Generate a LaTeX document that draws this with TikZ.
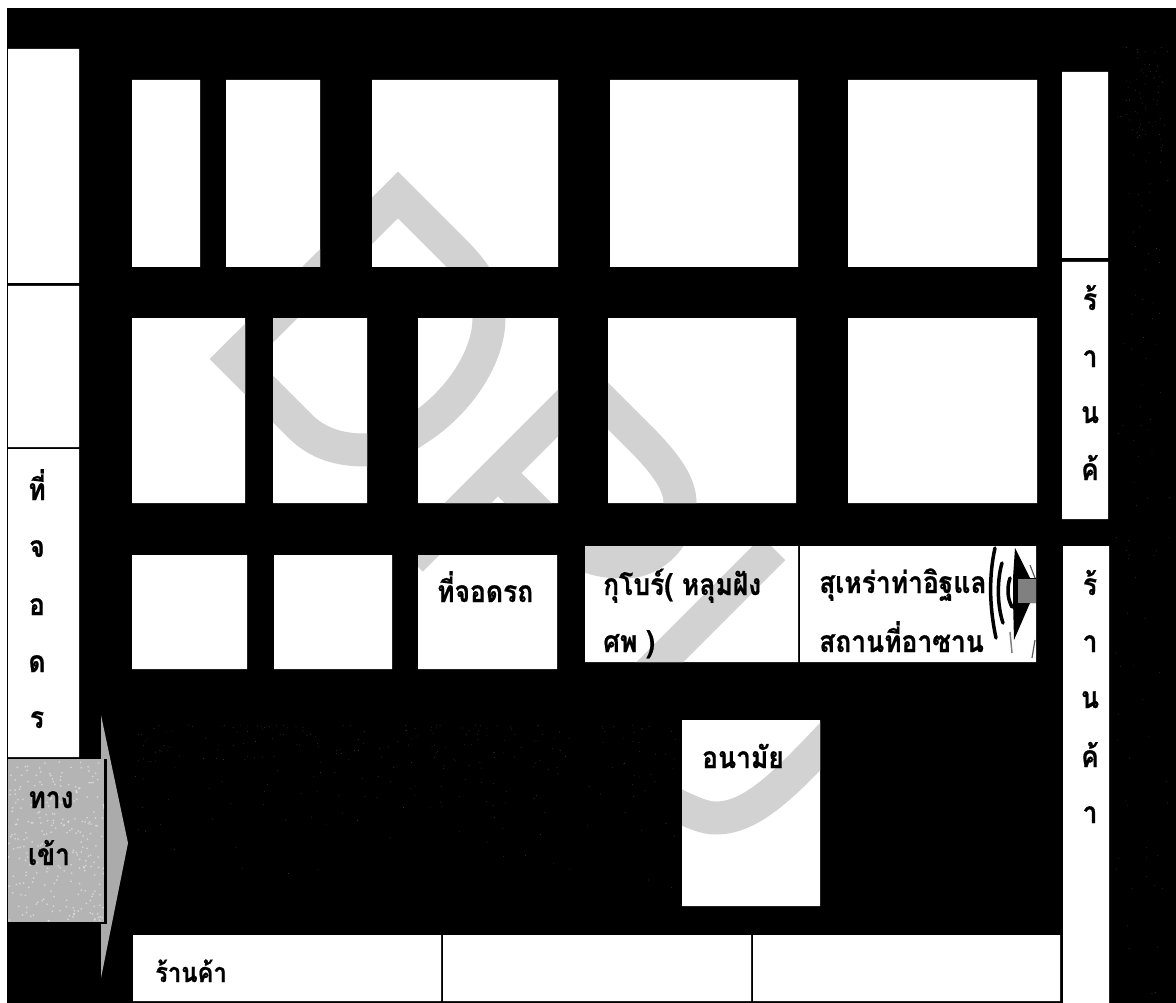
\documentclass[tikz,border=0pt]{standalone}
\usepackage{fontspec}
\newfontfamily\thaifont[Script=Thai,BoldFeatures={FakeStretch=0.88,FakeBold=0.6}]{Loma}
\newcommand{\boxrects}{
  (8,49) rectangle (79,283)
  (8,286) rectangle (79,447)
  (8,449) rectangle (79,757)
  (132,80) rectangle (200,267)
  (226,80) rectangle (320,267)
  (372,80) rectangle (558,267)
  (610,80) rectangle (798,267)
  (848,80) rectangle (1037,267)
  (132,318) rectangle (245,503)
  (273,318) rectangle (367,503)
  (418,318) rectangle (558,503)
  (608,318) rectangle (796,503)
  (848,318) rectangle (1037,503)
  (132,555) rectangle (247,669)
  (274,555) rectangle (392,669)
  (418,555) rectangle (557,669)
  (585,546) rectangle (798,662)
  (800,546) rectangle (1036,662)
  (682,720) rectangle (820,906)
  (133,935) rectangle (441,1001)
  (443,935) rectangle (751,1001)
  (753,935) rectangle (1060,1001)
  (1062,72) rectangle (1108,258)
  (1062,262) rectangle (1108,519)
  (1063,546) rectangle (1109,1003)
}
\tikzset{
  lbl/.style={anchor=base west,inner sep=0pt,font=\thaifont\bfseries\fontsize{30}{30}\selectfont,text=black},
  slbl/.style={anchor=base west,inner sep=0pt,font=\thaifont\bfseries\fontsize{27}{27}\selectfont,text=black},
  vlbl/.style={anchor=base,inner sep=0pt,font=\thaifont\bfseries\fontsize{30}{30}\selectfont,text=black},
  band/.style={draw=wmgray,line width=33pt,miter limit=10},
  speck/.style={fill=noisegray},
  horn/.style={draw=black,line width=3.5pt,line cap=round}
}
\definecolor{wmgray}{HTML}{D2D2D2}
\definecolor{entry}{HTML}{B4B4B4}
\definecolor{arrowgray}{HTML}{ABABAB}
\definecolor{noisegray}{HTML}{3C3C3C}
\begin{document}
\begin{tikzpicture}[x=1pt,y=-1pt]
\useasboundingbox (0,0) rectangle (1176,1003);
\fill[white] (0,0) rectangle (1176,1003);
\fill[black] (7,8) rectangle (1176,1003);
% faint scan noise on the black
\pgfmathsetseed{11}
\foreach \i in {1,...,260}{
  \pgfmathsetmacro\px{135+545*rnd}\pgfmathsetmacro\py{725+175*rnd*rnd}
  \fill[speck] (\px,\py) circle (0.45pt);
}
\foreach \i in {1,...,90}{
  \pgfmathsetmacro\px{1115+55*rnd}\pgfmathsetmacro\py{50+950*rnd}
  \fill[speck] (\px,\py) circle (0.45pt);
}
\foreach \i in {1,...,60}{
  \pgfmathsetmacro\px{1125+40*rnd}\pgfmathsetmacro\py{45+120*rnd}
  \fill[speck] (\px,\py) circle (0.45pt);
}
% white plots
\fill[white] \boxrects;
% watermark, seen only on the white plots
\begin{scope}
  \clip \boxrects;
  \draw[band] (233,359) -- (398,195) -- (455,252)
    .. controls (478,275) and (489,295) .. (489,318)
    .. controls (489,360) and (455,405) .. (419,428)
    .. controls (400,441) and (385,450) .. (365,450)
    .. controls (340,450) and (318,444) .. (300,426) -- cycle;
  \draw[band] (411,560) -- (586.5,384.5) -- (640,438)
    .. controls (668,466) and (680,485) .. (680,503)
    .. controls (680,535) and (655,562) .. (625,562)
    .. controls (600,562) and (583,558) .. (565,540) -- (498,473);
  \draw[band] (773.5,548.5) -- (630,692);
  \draw[band] (840,726) .. controls (790,778) and (755,818) .. (716,818)
    .. controls (705,818) and (695,814) .. (670,802);
\end{scope}
% entrance
\fill[arrowgray] (101,715) -- (128,843) -- (101,978) -- cycle;
\fill[entry] (8,759) rectangle (105,922);
\draw[black,line width=2.5pt] (105.5,759) -- (105.5,923) -- (8,923);
\begin{scope}
  \clip (8,759) rectangle (104,921);
  \foreach \i in {1,...,260}{
    \pgfmathsetmacro\px{8+96*rnd}\pgfmathsetmacro\py{759+162*rnd}
    \fill[white,opacity=.45] (\px,\py) circle (1pt);
  }
\end{scope}
% minaret sound icon
\draw[horn] (995,548) .. controls (989,575) and (989,605) .. (996,638);
\draw[horn] (1002,563) .. controls (997,580) and (997,605) .. (1003,623);
\draw[horn] (1010,578) .. controls (1007,587) and (1007,598) .. (1012,607);
\draw[gray,line width=1.5pt] (1010,632) -- (1012,653);
\fill[black] (1015,548) -- (1030,578) -- (1036,578) -- (1036,603) -- (1030,603) -- (1014,640) -- (1013,600) -- (1013,578) -- cycle;
\fill[gray] (1018,579) rectangle (1036,603);
\draw[gray!70!black,line width=1.2pt] (1030,565) -- (1035,578);
\draw[gray!70!black,line width=1.2pt] (1035,640) -- (1032,658);
% labels
\node[lbl] (parkh) at (437,602) {ที่จอดรถ};
\node[lbl] (kubur1) at (603,595) {กุโบร์( หลุมฝัง};
\node[lbl] (kubur2) at (603,652) {ศพ )};
\node[lbl] (mosque1) at (819,593) {สุเหร่าท่าอิฐแล};
\node[lbl] (mosque2) at (819,652) {สถานที่อาซาน};
\node[lbl] (clinic) at (702,768) {อนามัย};
\node[slbl] (shopb) at (155,982) {ร้านค้า};
\node[vlbl] (p1) at (37,500) {ที่};
\node[vlbl] (p2) at (37,557) {จ};
\node[vlbl] (p3) at (37,615) {อ};
\node[vlbl] (p4) at (37,672) {ด};
\node[vlbl] (p5) at (37,728) {ร};
\node[vlbl] (e1) at (51,808) {ทาง};
\node[vlbl] (e2) at (49,865) {เข้า};
\node[vlbl] (a1) at (1090,310) {ร้};
\node[vlbl] (a2) at (1090,367) {า};
\node[vlbl] (a3) at (1090,423) {น};
\node[vlbl] (a4) at (1090,480) {ค้};
\node[vlbl] (b1) at (1090,595) {ร้};
\node[vlbl] (b2) at (1090,652) {า};
\node[vlbl] (b3) at (1090,708) {น};
\node[vlbl] (b4) at (1090,767) {ค้};
\node[vlbl] (b5) at (1090,823) {า};
\end{tikzpicture}
\end{document}
